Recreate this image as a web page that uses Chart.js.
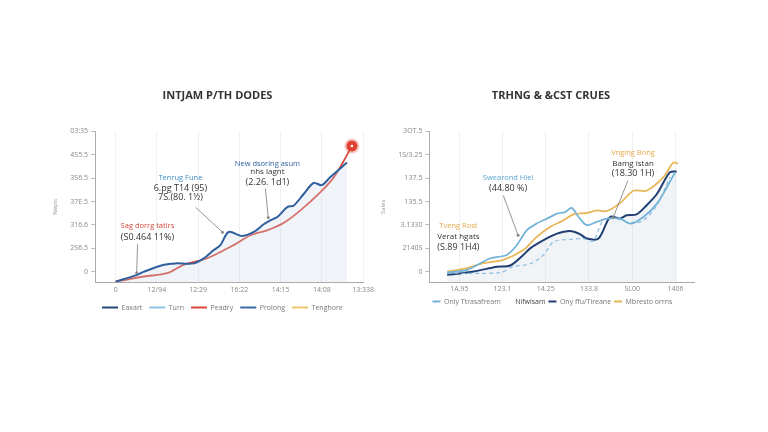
<!DOCTYPE html>
<html>
<head>
<meta charset="utf-8">
<script src="https://cdn.jsdelivr.net/npm/chart.js@4.4.1/dist/chart.umd.min.js"></script>
<style>
  html, body { margin: 0; padding: 0; background: #fff; }
  #wrap { position: relative; width: 768px; height: 432px; background: #fff; }
  .box { position: absolute; top: 80px; }
</style>
</head>
<body>
<div id="wrap">
  <div class="box" style="left:44px;width:333px;height:247px"><canvas id="leftChart"></canvas></div>
  <div class="box" style="left:372px;width:328px;height:241px"><canvas id="rightChart"></canvas></div>
</div>
<script>
// left chart
const leftXLabels = ["0", "12/94", "12:29", "16:22", "14:15", "14:08", "13:338"];
const leftYLabels = ["0", "2S6.5", "316.6", "37E.5", "3S6.5", "4S5.5", "03:35"];
const blueX = [0, 0.52, 0.69, 1.17, 1.45, 1.9, 2.14, 2.38, 2.54, 2.74, 3.07, 3.35, 3.59, 3.75, 3.92, 4.16, 4.32, 4.56, 4.8, 5.0, 5.2, 5.61];
const blueY = [-0.42, -0.13, 0.01, 0.3, 0.36, 0.36, 0.58, 0.93, 1.14, 1.7, 1.53, 1.7, 2.03, 2.2, 2.34, 2.76, 2.83, 3.32, 3.79, 3.7, 4.03, 4.66];
const redX = [0, 0.69, 1.25, 1.65, 2.22, 2.86, 3.27, 3.67, 4.07, 4.48, 4.96, 5.29, 5.53, 5.73];
const redY = [-0.42, -0.2, -0.06, 0.3, 0.58, 1.14, 1.56, 1.77, 2.08, 2.62, 3.39, 4.03, 4.73, 5.37];

// right chart
const rightXLabels = ["1A.95", "123.1", "14.25", "133.8", "SL00", "1406"];
const rightYLabels = ["0", "2140S", "3.1330", "135.5", "137.5", "1S/3.25", "3OT.5"];
const lightX = [-0.28, 0.18, 0.72, 1.1, 1.33, 1.56, 1.79, 2.03, 2.26, 2.45, 2.6, 2.76, 2.95, 3.18, 3.41, 3.72, 3.95, 4.26, 4.57, 4.8, 4.99];
const lightY = [-0.03, 0.08, 0.58, 0.72, 1.14, 1.77, 2.06, 2.27, 2.48, 2.55, 2.73, 2.34, 1.99, 2.13, 2.27, 2.27, 2.06, 2.34, 2.9, 3.6, 4.24];
const navyX = [-0.28, 0.33, 0.87, 1.18, 1.48, 1.64, 1.95, 2.26, 2.56, 2.79, 2.95, 3.22, 3.49, 3.72, 3.87, 4.1, 4.33, 4.57, 4.87, 5.03];
const navyY = [-0.13, 0.01, 0.22, 0.27, 0.72, 1.0, 1.35, 1.63, 1.74, 1.61, 1.42, 1.42, 2.34, 2.27, 2.41, 2.45, 2.83, 3.32, 4.24, 4.28];
const orangeX = [-0.28, 0.18, 0.56, 1.02, 1.48, 1.79, 2.1, 2.41, 2.64, 2.95, 3.18, 3.41, 3.72, 4.03, 4.33, 4.72, 4.95, 5.06];
const orangeY = [0.01, 0.16, 0.37, 0.51, 0.93, 1.49, 1.91, 2.2, 2.45, 2.51, 2.62, 2.59, 2.93, 3.46, 3.46, 4.03, 4.66, 4.62];
const dashX = [-0.28, 0.95, 1.25, 1.64, 1.95, 2.18, 2.56, 2.87, 3.1, 3.33, 3.64, 3.95, 4.26, 4.57, 4.87];
const dashY = [-0.06, -0.03, 0.22, 0.34, 0.72, 1.28, 1.38, 1.42, 1.32, 2.2, 2.3, 2.06, 2.2, 2.83, 4.03];

const pts = (xs, ys) => xs.map((x, i) => ({ x: x, y: ys[i] }));

const FONT = "'Open Sans', 'Noto Sans', sans-serif";

// draws the callout texts + leader lines and the end marker
const notesPlugin = {
  id: "notes",
  afterLayout(chart, args, opts) {
    // nudge the title sideways
    if (opts.titleShift && chart.titleBlock) {
      chart.titleBlock.left += opts.titleShift;
      chart.titleBlock.right += opts.titleShift;
    }
  },
  afterDatasetsDraw(chart, args, opts) {
    const c = chart.ctx, xs = chart.scales.x, ys = chart.scales.y;
    c.save();
    (opts.items || []).forEach(n => {
      if (n.leader) {
        c.strokeStyle = "#7a7a7a";
        c.lineWidth = 0.8;
        c.beginPath();
        c.moveTo(xs.getPixelForValue(n.leader[0]), ys.getPixelForValue(n.leader[1]));
        c.lineTo(xs.getPixelForValue(n.leader[2]), ys.getPixelForValue(n.leader[3]));
        c.stroke();
        c.fillStyle = "#8a8a8a";
        c.beginPath();
        c.arc(xs.getPixelForValue(n.leader[2]), ys.getPixelForValue(n.leader[3]), 1.5, 0, Math.PI * 2);
        c.fill();
      }
      c.textAlign = "center";
      c.textBaseline = "middle";
      n.lines.forEach(l => {
        c.font = (l.size || 8) + "px " + FONT;
        c.fillStyle = l.color;
        c.fillText(l.text, xs.getPixelForValue(n.x), ys.getPixelForValue(l.y));
      });
    });
    if (opts.endMarker != null) {
      const meta = chart.getDatasetMeta(opts.endMarker);
      const p = meta.data[meta.data.length - 1];
      c.fillStyle = "rgba(224,70,55,0.3)";
      c.beginPath(); c.arc(p.x, p.y, 7.5, 0, Math.PI * 2); c.fill();
      c.fillStyle = "#e0402f";
      c.beginPath(); c.arc(p.x, p.y, 5.5, 0, Math.PI * 2); c.fill();
      c.fillStyle = "#fff";
      c.beginPath(); c.arc(p.x, p.y, 1.3, 0, Math.PI * 2); c.fill();
    }
    c.restore();
  }
};

function lineLegend(pad, boxW) {
  return {
    position: "bottom",
    align: "start",
    fullSize: false,
    labels: {
      font: { size: 7, family: FONT },
      color: "#777",
      boxWidth: boxW,
      boxHeight: 2,
      padding: pad,
      generateLabels(chart) {
        return chart.data.datasets.map((d, i) => ({
          text: d.label,
          fillStyle: d.legendColor || d.borderColor,
          strokeStyle: d.legendColor || d.borderColor,
          lineWidth: 0,
          hidden: false,
          datasetIndex: i,
          fontColor: d.legendText || "#777"
        }));
      }
    }
  };
}

function baseOptions(title, yTitle, xLabels, yLabels, xMin, xMax, legendPad, boxW, xTickPad, notes) {
  return {
    responsive: true,
    maintainAspectRatio: false,
    animation: false,
    layout: { padding: { left: 0, right: 6, bottom: 6 } },
    elements: { point: { radius: 0 }, line: { tension: 0.3, borderWidth: 1.8 } },
    scales: {
      x: {
        type: "linear",
        min: xMin,
        max: xMax,
        afterBuildTicks(s) { s.ticks = xLabels.map((t, i) => ({ value: i })); },
        ticks: {
          callback: v => xLabels[v],
          font: { size: 7, family: FONT },
          color: "#888",
          padding: xTickPad,
          maxRotation: 0
        },
        grid: { color: "#eef0f2", tickLength: 0 },
        border: { color: "#aaa" }
      },
      y: {
        type: "linear",
        min: -0.46,
        max: 6,
        afterBuildTicks(s) { s.ticks = yLabels.map((t, i) => ({ value: i })); },
        ticks: {
          callback: v => yLabels[v],
          font: { size: 7, family: FONT },
          color: "#888",
          padding: 3
        },
        grid: { drawOnChartArea: false, tickLength: 4, color: "#bbb" },
        border: { color: "#aaa" },
        title: { display: true, text: yTitle, font: { size: 6, family: FONT }, color: "#999", padding: 8 }
      }
    },
    plugins: {
      title: {
        display: true,
        text: title,
        font: { size: 11, weight: "bold", family: FONT },
        color: "#333",
        padding: { top: 9, bottom: 29 }
      },
      legend: lineLegend(legendPad, boxW),
      tooltip: { enabled: false },
      notes: notes
    }
  };
}

new Chart(document.getElementById("leftChart"), {
  type: "line",
  plugins: [notesPlugin],
  data: {
    datasets: [
      { label: "Eaxart", data: pts(blueX, blueY), borderColor: "#2f5f9f", legendColor: "#24467a",
        fill: "start", backgroundColor: "rgba(205,215,228,0.3)", borderWidth: 2 },
      { label: "Turn", data: [], borderColor: "#8cc2e2" },
      { label: "Peadry", data: pts(redX, redY), borderColor: "#d8463a", fill: false, borderWidth: 1.8 },
      { label: "Prolong", data: [], borderColor: "#3e69a8" },
      { label: "Tenghore", data: [], borderColor: "#f0c66a" }
    ]
  },
  options: baseOptions("INTJAM P/TH DODES", "Nepis", leftXLabels, leftYLabels, -0.5, 6, 7, 16, 3, {
    endMarker: 2,
    titleShift: 10,
    items: [
      { x: 0.77, leader: [0.53, 1.18, 0.51, -0.04], lines: [
        { text: "Sag dorrg tatlrs", y: 1.94, color: "#d14a3c", size: 7.5 },
        { text: "(S0.464 11%)", y: 1.48, color: "#333", size: 9 } ] },
      { x: 1.57, leader: [1.94, 2.75, 2.59, 1.69], lines: [
        { text: "Tenrug Fune", y: 4.01, color: "#3f8fc4", size: 7.5 },
        { text: "6.pg T14 (95)", y: 3.55, color: "#333", size: 9 },
        { text: "7S.(80. 1½)", y: 3.17, color: "#333", size: 9 } ] },
      { x: 3.68, leader: [3.63, 3.55, 3.7, 2.32], lines: [
        { text: "New dsoring asum", y: 4.6, color: "#2f5f9f", size: 7.5 },
        { text: "nhs lagnt", y: 4.27, color: "#333", size: 8 },
        { text: "(2.26. 1d1)", y: 3.8, color: "#333", size: 9 } ] }
    ]
  })
});

new Chart(document.getElementById("rightChart"), {
  type: "line",
  plugins: [notesPlugin],
  data: {
    datasets: [
      { label: "Only Ttrasafream", data: pts(lightX, lightY), borderColor: "#74b3d8", fill: false },
      { label: "Nifwisam", data: pts(dashX, dashY), borderColor: "#8dbcdc", legendColor: "rgba(0,0,0,0)",
        legendText: "#444", borderDash: [4, 3], borderWidth: 1.2, fill: false },
      { label: "Ony ffu/Tireane", data: pts(navyX, navyY), borderColor: "#213f74",
        fill: "start", backgroundColor: "rgba(205,217,230,0.3)", borderWidth: 2 },
      { label: "Mbresto orrns", data: pts(orangeX, orangeY), borderColor: "#e8b557", fill: false }
    ]
  },
  options: baseOptions("TRHNG & &CST CRUES", "Sales", rightXLabels, rightYLabels, -0.69, 5.43, 3, 8, 2, {
    titleShift: 18,
    items: [
      { x: 1.13, leader: [1.02, 3.25, 1.36, 1.56], lines: [
        { text: "Swearond Hiel", y: 4.01, color: "#5aa6d2", size: 7.5 },
        { text: "(44.80 %)", y: 3.55, color: "#333", size: 9 } ] },
      { x: -0.02, lines: [
        { text: "Tveng Rost", y: 1.94, color: "#e4a94a", size: 7.5 },
        { text: "Verat hgats", y: 1.48, color: "#333", size: 8 },
        { text: "(S.89 1H4)", y: 1.06, color: "#333", size: 9 } ] },
      { x: 4.02, leader: [3.9, 3.89, 3.56, 2.32], lines: [
        { text: "Vnging Bong", y: 5.07, color: "#e4a94a", size: 7.5 },
        { text: "Bamg istan", y: 4.6, color: "#333", size: 8 },
        { text: "(18.30 1H)", y: 4.18, color: "#333", size: 9 } ] }
    ]
  })
});
</script>
</body>
</html>
